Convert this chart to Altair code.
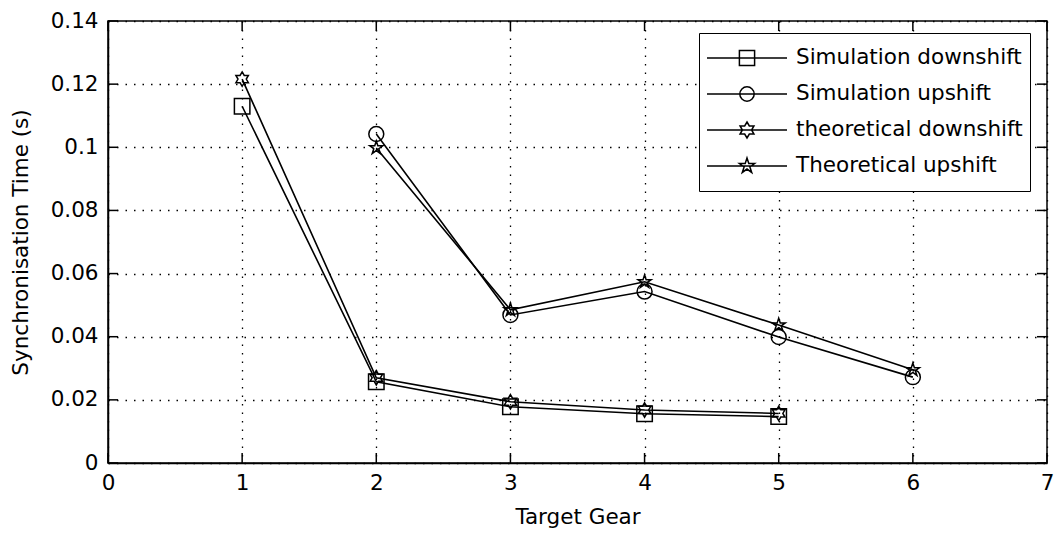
import altair as alt
import pandas as pd

# Synchronisation times per target gear
gears_down = [1, 2, 3, 4, 5]
gears_up = [2, 3, 4, 5, 6]
sim_downshift = [0.1130, 0.0257, 0.0178, 0.0156, 0.0147]
theo_downshift = [0.1216, 0.0270, 0.0194, 0.0168, 0.0157]
sim_upshift = [0.1042, 0.0469, 0.0543, 0.0399, 0.0272]
theo_upshift = [0.0998, 0.0485, 0.0574, 0.0437, 0.0295]

series_names = [
    "Simulation downshift",
    "Simulation upshift",
    "theoretical downshift",
    "Theoretical upshift",
]
x_ticks = [0, 1, 2, 3, 4, 5, 6, 7]
y_ticks = [0, 0.02, 0.04, 0.06, 0.08, 0.1, 0.12, 0.14]

rows = []
for name, gears, vals in [
    (series_names[0], gears_down, sim_downshift),
    (series_names[1], gears_up, sim_upshift),
    (series_names[2], gears_down, theo_downshift),
    (series_names[3], gears_up, theo_upshift),
]:
    for g, v in zip(gears, vals):
        rows.append({"series": name, "gear": g, "time": v})
df = pd.DataFrame(rows)

# Marker outlines in unit coordinates
HEXAGRAM = [(0, -1), (0.289, -0.5), (0.866, -0.5), (0.577, 0), (0.866, 0.5), (0.289, 0.5),
            (0, 1), (-0.289, 0.5), (-0.866, 0.5), (-0.577, 0), (-0.866, -0.5), (-0.289, -0.5)]
PENTAGRAM = [(0, -1), (0.225, -0.309), (0.951, -0.309), (0.363, 0.118), (0.588, 0.809),
             (0, 0.382), (-0.588, 0.809), (-0.363, 0.118), (-0.951, -0.309), (-0.225, -0.309)]
SQUARE = [(-1, -1), (1, -1), (1, 1), (-1, 1)]


def poly_path(pts, s=1.0):
    return "M" + "L".join(f"{x * s:.3f},{y * s:.3f}" for x, y in pts) + "Z"


def circle_path(r):
    return f"M{r},0A{r},{r} 0 1,1 {-r},0A{r},{r} 0 1,1 {r},0Z"


marker_shapes = [poly_path(SQUARE), "circle", poly_path(HEXAGRAM), poly_path(PENTAGRAM)]
marker_sizes = [240, 190, 260, 260]

# Legend glyphs: a line segment through the marker
LINE = "M-1,0L1,0"
legend_shapes = [
    LINE + poly_path(SQUARE, 0.19),
    LINE + circle_path(0.18),
    LINE + poly_path(HEXAGRAM, 0.2),
    LINE + poly_path(PENTAGRAM, 0.2),
]

W, H = 939, 442
TICK = 10

x_enc = alt.X(
    "gear:Q",
    scale=alt.Scale(domain=[0, 7], nice=False),
    axis=alt.Axis(values=x_ticks, format="d", title="Target Gear",
                  labelPadding=9, titlePadding=13),
)
y_enc = alt.Y(
    "time:Q",
    scale=alt.Scale(domain=[0, 0.14], nice=False),
    axis=alt.Axis(values=y_ticks, format="~g", title="Synchronisation Time (s)",
                  labelPadding=10, titlePadding=18),
)

base = alt.Chart(df)

lines = base.mark_line(color="black", strokeWidth=1.6).encode(
    x=x_enc, y=y_enc, detail="series:N"
)

points = base.mark_point(filled=False, color="black", strokeWidth=1.5, opacity=1).encode(
    x=x_enc,
    y=y_enc,
    shape=alt.Shape("series:N", scale=alt.Scale(domain=series_names, range=marker_shapes), legend=None),
    size=alt.Size("series:N", scale=alt.Scale(domain=series_names, range=marker_sizes), legend=None),
)

legend_layer = base.mark_point(filled=False, color="black", opacity=0).encode(
    x=x_enc,
    y=y_enc,
    shape=alt.Shape(
        "series:N",
        scale=alt.Scale(domain=series_names, range=legend_shapes),
        legend=alt.Legend(
            title=None,
            orient="none",
            legendX=591,
            legendY=12,
            padding=7,
            strokeColor="black",
            fillColor="white",
            cornerRadius=0,
            labelFont="DejaVu Sans",
            labelFontSize=21.5,
            labelColor="black",
            symbolSize=6400,
            symbolStrokeWidth=1.5,
            symbolStrokeColor="black",
            symbolFillColor="transparent",
            symbolOpacity=1,
            clipHeight=36,
            rowPadding=0,
            labelOffset=8,
            labelLimit=400,
        ),
    ),
)

xt = pd.DataFrame({"gear": x_ticks})
yt = pd.DataFrame({"time": y_ticks})
tick_style = dict(color="black", strokeWidth=1.5)
bottom_ticks = alt.Chart(xt).mark_rule(**tick_style).encode(x=x_enc, y=alt.value(H), y2=alt.value(H - TICK))
top_ticks = alt.Chart(xt).mark_rule(**tick_style).encode(x=x_enc, y=alt.value(0), y2=alt.value(TICK))
left_ticks = alt.Chart(yt).mark_rule(**tick_style).encode(y=y_enc, x=alt.value(0), x2=alt.value(TICK))
right_ticks = alt.Chart(yt).mark_rule(**tick_style).encode(y=y_enc, x=alt.value(W), x2=alt.value(W - TICK))

chart = (
    alt.layer(lines, points, legend_layer, bottom_ticks, top_ticks, left_ticks, right_ticks)
    .resolve_scale(shape="independent", size="independent")
    .properties(
        width=W,
        height=H,
        autosize=alt.AutoSizeParams(type="none"),
        padding={"left": 108, "top": 21, "right": 1061 - 108 - W, "bottom": 540 - 21 - H},
        background="white",
    )
    .configure_view(stroke="black", strokeWidth=1.5)
    .configure_axis(
        labelFont="DejaVu Sans",
        labelFontSize=21.5,
        labelColor="black",
        labelFlush=False,
        labelOverlap=False,
        titleFont="DejaVu Sans",
        titleFontSize=21.5,
        titleFontWeight="normal",
        titleColor="black",
        ticks=False,
        tickSize=0,
        domain=True,
        domainColor="black",
        domainWidth=1.5,
        grid=True,
        gridColor="black",
        gridOpacity=1,
        gridWidth=1.3,
        gridDash=[1.5, 7],
    )
)

chart.save("out.html", embed_options={"renderer": "svg", "actions": False})
